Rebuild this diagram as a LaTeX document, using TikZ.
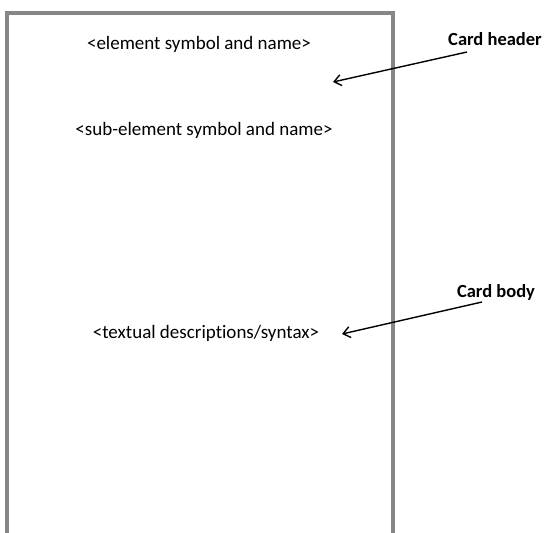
\documentclass[tikz,border=0pt]{standalone}
\usepackage{fontspec}
\setmainfont{Carlito}[Ligatures=NoCommon]
\usetikzlibrary{arrows.meta,positioning}

\begin{document}
\begin{tikzpicture}[x=1pt, y=-1pt,
  cardtext/.style={font=\fontsize{19}{21}\selectfont, inner sep=0pt, anchor=base},
  calltext/.style={font=\bfseries\fontsize{18.5}{21}\selectfont, inner sep=0pt, anchor=base},
  pointer/.style={line width=1.4pt, black, -{Straight Barb[length=7pt, width=11pt]}}]
  \useasboundingbox (0,0) rectangle (545,532);

  % Card outline, open at the bottom
  \draw[line width=4pt, gray!95!white] (7,540) -- (7,13) -- (393,13) -- (393,540);

  % Card contents
  \node[cardtext] (elem) at (199,50) {<element symbol and name>};
  \node[cardtext] (subelem) at (204,135) {<sub-element symbol and name>};
  \node[cardtext] (textdesc) at (206,338) {<textual descriptions/syntax>};

  % Callouts
  \node[calltext] (hdr) at (495,46) {Card header};
  \node[calltext] (bdy) at (496,297) {Card body};
  \coordinate (hdrtip) at (333,82);
  \coordinate (bdytip) at (342,334);

  \draw[pointer] (hdr.base) ++(-28,6) -- (hdrtip);
  \draw[pointer] (bdy.base) ++(-14,5) -- (bdytip);
\end{tikzpicture}
\end{document}
